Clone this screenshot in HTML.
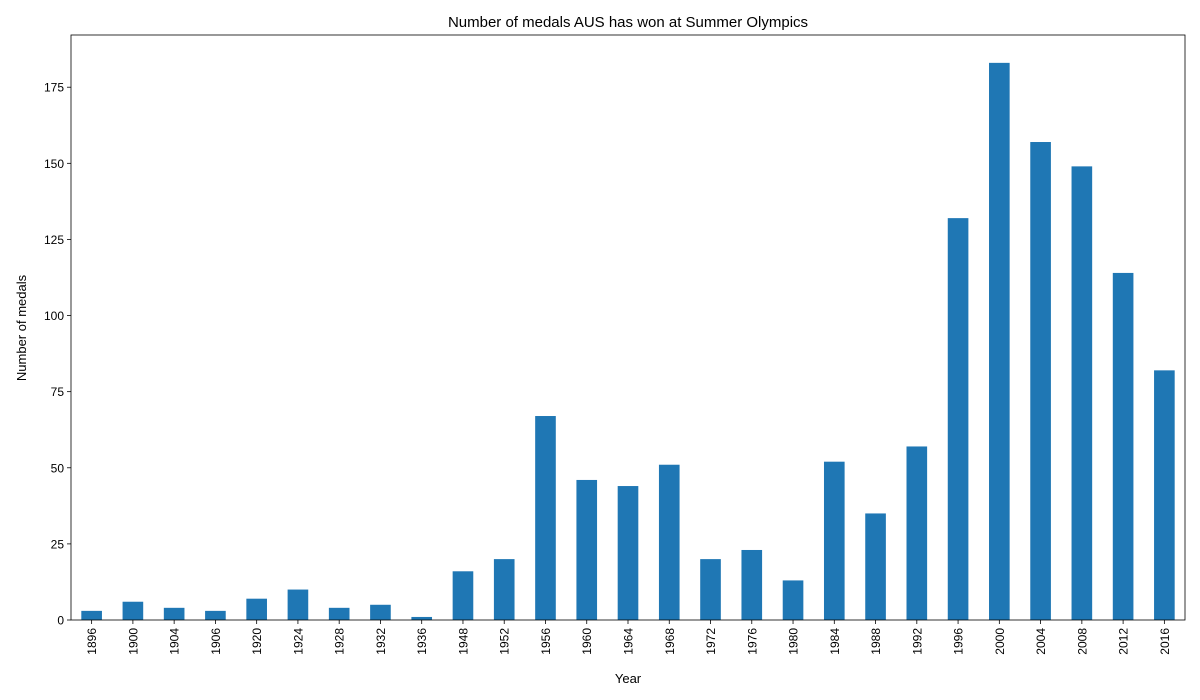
<!DOCTYPE html>
<html><head><meta charset="utf-8"><style>
body{margin:0;background:#fff;}
svg{display:block;font-family:"Liberation Sans","DejaVu Sans",sans-serif;}
</style></head><body>
<svg id="chart" width="1200" height="700">
<rect width="1200" height="700" fill="#fff"/>
<text x="628" y="27" text-anchor="middle" font-size="15">Number of medals AUS has won at Summer Olympics</text>
<g id="bars"></g><g id="axes"></g>
<text x="628" y="683" text-anchor="middle" font-size="13">Year</text>
<text transform="translate(26,328) rotate(-90)" text-anchor="middle" font-size="13">Number of medals</text>
</svg>
<script>
const categories=["1896","1900","1904","1906","1920","1924","1928","1932","1936","1948","1952","1956","1960","1964","1968","1972","1976","1980","1984","1988","1992","1996","2000","2004","2008","2012","2016"];
const medals=[3,6,4,3,7,10,4,5,1,16,20,67,46,44,51,20,23,13,52,35,57,132,183,157,149,114,82];
const yTicks=[0,25,50,75,100,125,150,175];
const L=71,R=1185,T=35,B=620;
const yMax=Math.max(...medals)*1.05;
const y=v=>B-(v/yMax)*(B-T);
const step=(R-L)/categories.length;
const xc=i=>L+step*(i+0.5);
const NS="http://www.w3.org/2000/svg";
const bars=document.getElementById('bars'),axes=document.getElementById('axes');
function mk(tag,attrs,parent){const e=document.createElementNS(NS,tag);for(const k in attrs)e.setAttribute(k,attrs[k]);parent.appendChild(e);return e;}
medals.forEach((v,i)=>{
 const r=mk('rect',{x:xc(i)-step*0.25,y:y(v),width:step*0.5,height:B-y(v),fill:'#1f77b4'},bars);
 
 
 mk('line',{x1:xc(i),x2:xc(i),y1:B,y2:B+4,stroke:'#000','stroke-width':0.8},axes);
 const t=mk('text',{transform:`translate(${xc(i)+4.5},${B+8}) rotate(-90)`,'text-anchor':'end','font-size':12},axes);
 t.textContent=categories[i];
 
 
});
yTicks.forEach(v=>{
 mk('line',{x1:L-4,x2:L,y1:y(v),y2:y(v),stroke:'#000','stroke-width':0.8},axes);
 const t=mk('text',{x:L-7,y:y(v)+4.5,'text-anchor':'end','font-size':12},axes);
 t.textContent=v;
 
 
});
const f=mk('rect',{x:L,y:T,width:R-L,height:B-T,fill:'none',stroke:'#000','stroke-width':0.8},axes);


</script>
</body></html>
